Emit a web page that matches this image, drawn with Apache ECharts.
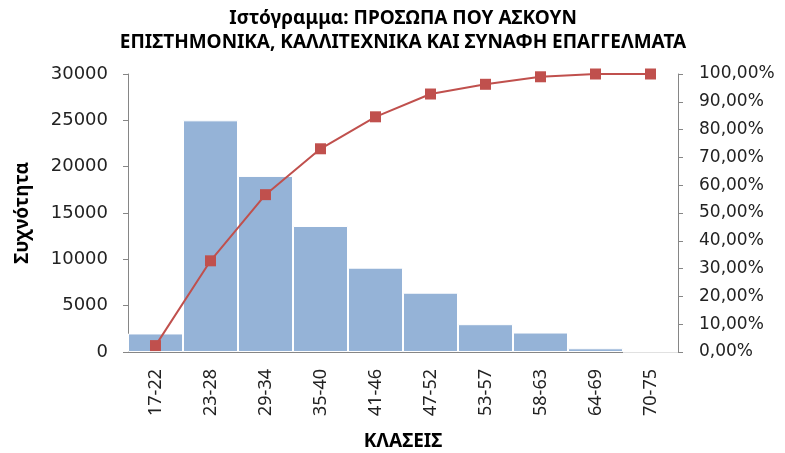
<!DOCTYPE html>
<html lang="el">
<head>
  <meta charset="UTF-8">
  <title>Ιστόγραμμα</title>
  <style>
    html, body { margin: 0; padding: 0; background: #fff; }
    #chart { width: 785px; height: 453px; }
  </style>
</head>
<body>
  <script src="https://cdn.jsdelivr.net/npm/echarts@6/dist/echarts.min.js"></script>
  <div id="chart"></div>
  <script>
    let chart = echarts.init(document.getElementById('chart'))

    // δεδομένα
    var classes = ['17-22', '23-28', '29-34', '35-40', '41-46', '47-52', '53-57', '58-63', '64-69', '70-75']
    var frequency = [2000, 25000, 19000, 13600, 9100, 6400, 3000, 2100, 400, 0]
    var cumulative = [2.3, 32.8, 56.6, 73.1, 84.6, 92.8, 96.3, 99.0, 100, 100]

    var labelFont = 'DejaVu Sans'
    var boldFont = 'Noto Sans'

    option = {
      backgroundColor: '#fff',
      animation: false,
      title: {
        text: 'Ιστόγραμμα: ΠΡΟΣΩΠΑ ΠΟΥ ΑΣΚΟΥΝ\nΕΠΙΣΤΗΜΟΝΙΚΑ, ΚΑΛΛΙΤΕΧΝΙΚΑ ΚΑΙ ΣΥΝΑΦΗ ΕΠΑΓΓΕΛΜΑΤΑ',
        left: 398,
        textAlign: 'center',
        top: 2,
        textStyle: {
          fontFamily: boldFont,
          fontWeight: 'bold',
          fontSize: 19,
          lineHeight: 24,
          color: '#000'
        }
      },
      grid: { left: 128, right: 107, top: 74, bottom: 101, outerBoundsMode: 'none', containLabel: false },
      xAxis: {
        type: 'category',
        data: classes,
        name: 'ΚΛΑΣΕΙΣ',
        nameLocation: 'middle',
        nameGap: 80,
        nameTextStyle: { fontFamily: boldFont, fontWeight: 'bold', fontSize: 19, color: '#000' },
        axisLine: { lineStyle: { color: '#868686', width: 1 } },
        axisTick: { show: false },
        axisLabel: {
          rotate: 90,
          margin: 17,
          fontFamily: boldFont,
          fontSize: 18,
          color: '#222'
        }
      },
      yAxis: [
        {
          type: 'value',
          min: 0,
          max: 30000,
          interval: 5000,
          name: 'Συχνότητα',
          nameLocation: 'middle',
          nameGap: 96,
          nameRotate: 90,
          nameTextStyle: { fontFamily: boldFont, fontWeight: 'bold', fontSize: 19, color: '#000' },
          axisLine: { show: true, lineStyle: { color: '#868686' } },
          axisTick: { show: true, length: 5, lineStyle: { color: '#868686' } },
          splitLine: { show: false },
          axisLabel: {
            margin: 20,
            fontFamily: labelFont,
            fontSize: 18,
            color: '#222',
            formatter: function (v) { return String(v) }
          }
        },
        {
          type: 'value',
          min: 0,
          max: 100,
          interval: 10,
          position: 'right',
          axisLine: { show: true, lineStyle: { color: '#868686' } },
          axisTick: { show: true, length: 5, lineStyle: { color: '#868686' } },
          splitLine: { show: false },
          axisLabel: {
            margin: 21,
            fontFamily: labelFont,
            fontSize: 17,
            color: '#222',
            formatter: function (v) { return v.toFixed(2).replace('.', ',') + '%' }
          }
        }
      ],
      series: [
        {
          type: 'bar',
          data: frequency,
          barCategoryGap: '0%',
          itemStyle: { color: '#95B3D7', borderColor: '#fff', borderWidth: 1 }
        },
        {
          type: 'line',
          yAxisIndex: 1,
          data: cumulative,
          symbol: 'rect',
          symbolSize: 11,
          lineStyle: { color: '#C0504D', width: 2 },
          itemStyle: { color: '#C0504D' }
        }
      ]
    };
    chart.setOption(option)
  </script>
</body>
</html>
